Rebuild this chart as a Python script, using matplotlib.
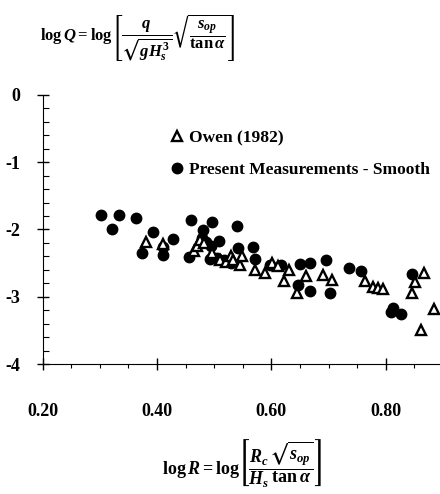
import matplotlib
matplotlib.use("Agg")
import matplotlib.pyplot as plt
from matplotlib.ticker import MultipleLocator

plt.rcParams["font.family"] = ["Liberation Serif", "DejaVu Serif"]
plt.rcParams["font.weight"] = "bold"
plt.rcParams["mathtext.fontset"] = "custom"
plt.rcParams["mathtext.rm"] = "Liberation Serif:bold"
plt.rcParams["mathtext.it"] = "Liberation Serif:italic:bold"
plt.rcParams["mathtext.bf"] = "Liberation Serif:bold"
plt.rcParams["mathtext.fallback"] = "stix"

# ---------------------------------
# Data
# ---------------------------------

owen_x = [0.380, 0.410, 0.465, 0.470, 0.476, 0.482, 0.496, 0.510, 0.520, 0.530,
          0.533, 0.545, 0.549, 0.572, 0.589, 0.601, 0.612, 0.631, 0.622, 0.645,
          0.660, 0.690, 0.706, 0.764, 0.778, 0.787, 0.796, 0.846, 0.851, 0.867,
          0.862, 0.885]
owen_y = [-2.18, -2.21, -2.32, -2.24, -2.15, -2.20, -2.35, -2.46, -2.48, -2.40,
          -2.46, -2.53, -2.39, -2.60, -2.65, -2.50, -2.55, -2.60, -2.77, -2.94,
          -2.69, -2.68, -2.75, -2.77, -2.86, -2.87, -2.89, -2.94, -2.78, -2.65,
          -3.49, -3.18]

smooth_x = [0.302, 0.321, 0.334, 0.363, 0.374, 0.393, 0.410, 0.410, 0.428, 0.459,
            0.456, 0.480, 0.496, 0.485, 0.478, 0.495, 0.508, 0.492, 0.505, 0.517,
            0.525, 0.530, 0.540, 0.541, 0.568, 0.572, 0.598, 0.616, 0.650, 0.668,
            0.696, 0.647, 0.668, 0.703, 0.735, 0.757, 0.813, 0.810, 0.826, 0.846]
smooth_y = [-1.78, -1.99, -1.78, -1.83, -2.35, -2.04, -2.26, -2.38, -2.14, -1.86,
            -2.41, -2.01, -1.89, -2.18, -2.12, -2.24, -2.17, -2.44, -2.43, -2.45,
            -2.47, -2.50, -1.95, -2.27, -2.26, -2.44, -2.53, -2.53, -2.52, -2.50,
            -2.45, -2.83, -2.91, -2.94, -2.57, -2.62, -3.16, -3.22, -3.25, -2.66]

x_ticks = [0.20, 0.40, 0.60, 0.80]
y_ticks = [0, -1, -2, -3, -4]

# ---------------------------------
# Figure
# ---------------------------------

fig = plt.figure(figsize=(4.4, 4.94), dpi=100)
ax = fig.add_axes([0.097, 0.263, 0.903, 0.545])

ax.plot(smooth_x, smooth_y, "o", color="black", markersize=7.5,
        label="Present Measurements - Smooth", zorder=3)
ax.plot(owen_x, owen_y, "^", markerfacecolor="white", markeredgecolor="black",
        markeredgewidth=1.7, markersize=7.5, label="Owen (1982)", zorder=4)

ax.set_xlim(0.20, 0.895)
ax.set_ylim(-4, 0)

ax.spines["top"].set_visible(False)
ax.spines["right"].set_visible(False)

ax.set_xticks(x_ticks)
ax.set_xticklabels([f"{v:.2f}" for v in x_ticks])
ax.set_yticks(y_ticks)
ax.set_yticklabels([f"{v:d}" for v in y_ticks])
ax.xaxis.set_minor_locator(MultipleLocator(0.05))
ax.yaxis.set_minor_locator(MultipleLocator(0.2))

ax.tick_params(axis="both", which="major", direction="inout", length=8,
               width=1, labelsize=13)
ax.tick_params(axis="y", which="minor", direction="in", length=4, width=0.8)
ax.tick_params(axis="x", which="minor", direction="out", length=3, width=0.8)
ax.tick_params(axis="x", which="major", pad=24)
ax.tick_params(axis="y", which="major", pad=12)

handles, labels = ax.get_legend_handles_labels()
ax.legend(handles[::-1], labels[::-1], loc="upper left",
          bbox_to_anchor=(0.325, 0.868), frameon=False, fontsize=12.5,
          handlelength=0.6, handletextpad=0.4, labelspacing=0.9,
          borderpad=0, borderaxespad=0)

ax.set_xlabel(r"$\mathrm{log}\,R = \mathrm{log}\left[\dfrac{R_c}{H_s}"
              r"\dfrac{\sqrt{s_{op}}}{\mathrm{tan}\,\alpha}\right]$",
              fontsize=13, labelpad=12)

fig.text(0.09, 0.925,
         r"$\mathrm{log}\,Q = \mathrm{log}\left[\dfrac{q}{\sqrt{gH_s^3}}"
         r"\sqrt{\dfrac{s_{op}}{\mathrm{tan}\,\alpha}}\right]$",
         fontsize=12, ha="left", va="center")

fig.savefig("out.png", dpi=100, facecolor="white")
